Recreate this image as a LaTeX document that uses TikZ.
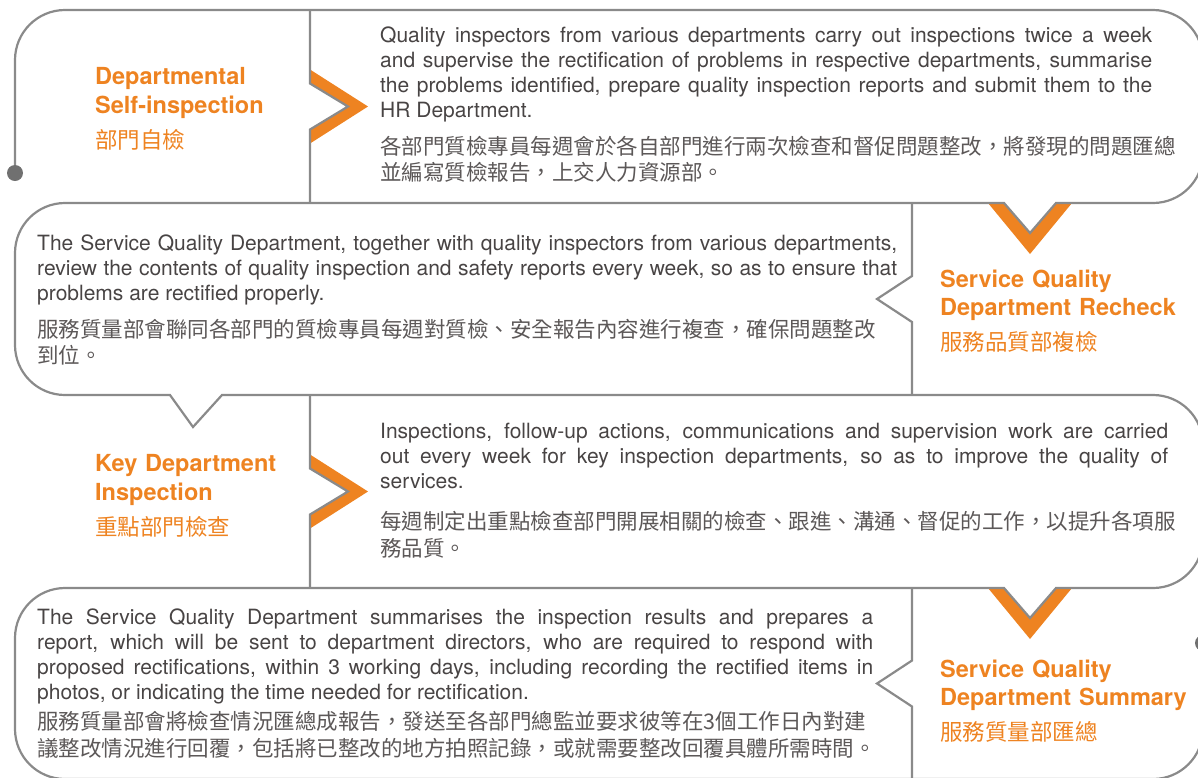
\documentclass[tikz,border=0pt]{standalone}
\usepackage{fontspec}
\setmainfont{TeX Gyre Heros}
\newfontfamily\cjk{Noto Sans CJK TC}
\definecolor{hkorange}{RGB}{238,131,33}
\definecolor{hkline}{RGB}{138,138,138}
\definecolor{hkdot}{RGB}{112,112,112}
\definecolor{hktext}{RGB}{72,68,68}
\definecolor{hkzh}{RGB}{92,88,88}
\tikzstyle{outline}=[line width=2.2,hkline,line join=miter]
\tikzstyle{title}=[anchor=base west,inner sep=0,text width=262pt,align=left,hkorange,font=\bfseries\fontsize{23.5}{28.5}\selectfont]
\tikzstyle{body}=[anchor=base west,inner sep=0,align=justify,hktext,font=\fontsize{21}{25}\selectfont]
\def\zh#1{{\cjk\color{hkzh}\fontsize{21.5}{26.5}\selectfont #1\par}}
\def\zhtitle#1{{\cjk\mdseries\fontsize{22.5}{28.5}\selectfont #1}}
% orange arrow on a divider at x=310, #1 = middle
\def\pointR#1{
  \fill[hkorange] (310,#1-37) -- (368,#1) -- (310,#1+37) -- (310,#1+23) -- (348,#1) -- (310,#1-23) -- cycle;
}
% orange arrow under a bubble at x=1030, #1 = bottom line
\def\pointD#1{
  \fill[hkorange] (988,#1) -- (1030,#1+51) -- (1072,#1) -- (1056,#1) -- (1030,#1+30) -- (1004,#1) -- cycle;
}
\begin{document}
\begin{tikzpicture}[x=1pt,y=-1pt]
  \useasboundingbox (0,0) rectangle (1198,777);
  \clip (0,0) rectangle (1198,777);

  % ARROWS
  \pointR{106.5}
  \pointR{491.5}
  \pointD{203}
  \pointD{588}

  % OUTLINE
  \draw[outline] (15,173) -- (15,60) arc (180:270:50) -- (1153,10) arc (270:360:50) -- (1203,153) arc (0:90:50)
    -- (1056,203) -- (1030,233) -- (1004,203) -- (65,203) arc (270:180:50) -- (15,345) arc (180:90:50)
    -- (170,395) -- (193,427) -- (222,395) -- (1153,395) arc (270:360:50) -- (1203,538) arc (0:90:50)
    -- (1056,588) -- (1030,618) -- (1004,588) -- (65,588) arc (270:180:50) -- (15,729) arc (180:90:50)
    -- (1153,779) arc (90:0:50) -- (1203,643);
  \draw[outline] (310,10) -- (310,83.5) -- (348,106.5) -- (310,129.5) -- (310,203);
  \draw[outline] (912,203) -- (912,276) -- (877,299) -- (912,322) -- (912,395);
  \draw[outline] (310,395) -- (310,468.5) -- (348,491.5) -- (310,514.5) -- (310,588);
  \draw[outline] (912,588) -- (912,660.5) -- (877,683.5) -- (912,706.5) -- (912,779);
  \fill[hkdot] (15,173) circle (8);
  \fill[hkdot] (1203,643) circle (8);

  % TITLES
  \node[title] (t1) at (95,84.5) {Departmental\\Self-inspection\\[6.5pt]\zhtitle{部門自檢}};
  \node[title] (t2) at (940,287) {Service Quality\\Department Recheck\\[6.5pt]\zhtitle{服務品質部複檢}};
  \node[title] (t3) at (95,471.5) {Key Department\\Inspection\\[6.5pt]\zhtitle{重點部門檢查}};
  \node[title] (t4) at (940,677) {Service Quality\\Department Summary\\[6.5pt]\zhtitle{服務質量部匯總}};

  % TEXTS
  \node[body,text width=772pt] (d1) at (380,42.5) {Quality inspectors from various departments carry out inspections twice a week\linebreak
    and supervise the rectification of problems in respective departments, summarise\linebreak
    the problems identified, prepare quality inspection reports and submit them to the\linebreak
    HR Department.\par\vspace{10pt}
    \zh{各部門質檢專員每週會於各自部門進行兩次檢查和督促問題整改，將發現的問題匯總\\並編寫質檢報告，上交人力資源部。}};
  \node[body,text width=860pt] (d2) at (37,250.5) {The Service Quality Department, together with quality inspectors from various departments,\linebreak
    review the contents of quality inspection and safety reports every week, so as to ensure that\linebreak
    problems are rectified properly.\par\vspace{10pt}
    \zh{服務質量部會聯同各部門的質檢專員每週對質檢、安全報告內容進行複查，確保問題整改\\到位。}};
  \node[body,text width=788pt] (d3) at (380,438) {Inspections, follow-up actions, communications and supervision work are carried\linebreak
    out every week for key inspection departments, so as to improve the quality of\linebreak
    services.\par\vspace{15pt}
    \zh{每週制定出重點檢查部門開展相關的檢查、跟進、溝通、督促的工作，以提升各項服\\務品質。}};
  \node[body,text width=836pt] (d4) at (37,624) {The Service Quality Department summarises the inspection results and prepares a\linebreak
    report, which will be sent to department directors, who are required to respond with\linebreak
    proposed rectifications, within 3 working days, including recording the rectified items in\linebreak
    photos, or indicating the time needed for rectification.\par\vspace{4pt}
    \zh{服務質量部會將檢查情況匯總成報告，發送至各部門總監並要求彼等在3個工作日內對建\\議整改情況進行回覆，包括將已整改的地方拍照記錄，或就需要整改回覆具體所需時間。}};
\end{tikzpicture}
\end{document}
